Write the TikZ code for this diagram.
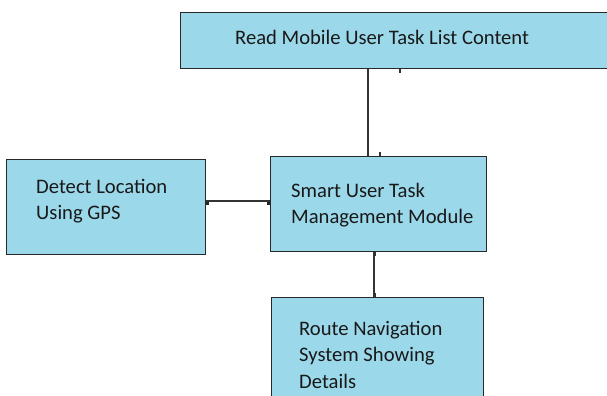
\documentclass[tikz,border=0pt]{standalone}
\usepackage{fontspec}
\setmainfont{Carlito}
\definecolor{boxfill}{RGB}{155,216,234}
\definecolor{edge}{RGB}{40,40,40}
\begin{document}
\begin{tikzpicture}[x=1bp,y=-1bp,
  blk/.style={draw=edge,line width=1.1bp,fill=boxfill,rectangle,inner sep=0,anchor=north west},
  lbl/.style={anchor=base west,inner sep=0,align=left,font=\fontsize{20.7}{26.5}\selectfont,text=black!90},
  conn/.style={draw=black!80,line width=1.1bp},
  tick/.style={draw=black!80,line width=1.3bp}]
\useasboundingbox (0,0) rectangle (607,395);
\clip (0,0) rectangle (607,395);
\fill[white] (0,0) rectangle (607,395);
\node[blk,minimum width=440bp,minimum height=56bp] (top) at (180,12) {};
\node[blk,minimum width=199bp,minimum height=95bp] (gps) at (6,159) {};
\node[blk,minimum width=216bp,minimum height=95bp] (mid) at (270,156) {};
\node[blk,minimum width=212bp,minimum height=110bp] (nav) at (271,297) {};
\node[lbl] (t1) at (235,44) {Read Mobile User Task List Content};
\node[lbl] (t2) at (36,219.5) {Detect Location\\Using GPS};
\node[lbl] (t3) at (291,223.5) {Smart User Task\\Management Module};
\node[lbl] (t4) at (299,388) {Route Navigation\\System Showing\\Details};
\coordinate (ca) at (368,0);
\coordinate (cb) at (374,0);
\coordinate (cy) at (0,201);
\draw[conn] (top.south -| ca) -- (mid.north -| ca);
\draw[conn] (mid.west |- cy) -- (gps.east |- cy);
\draw[conn] (mid.south -| cb) -- (nav.north -| cb);
\draw[tick] ([xshift=32bp]top.south -| ca) -- ++(0,4);
\draw[tick] ([xshift=12bp]mid.north -| ca) -- ++(0,-4);
\fill[black!85] ([yshift=-1bp]gps.east |- cy) rectangle ++(3,3);
\fill[black!85] ([yshift=-1bp]mid.west |- cy) rectangle ++(-3,3);
\draw[tick] ([xshift=1.5bp]mid.south -| cb) -- ++(0,4);
\draw[tick] ([xshift=1.5bp]nav.north -| cb) -- ++(0,-4);
\end{tikzpicture}
\end{document}
